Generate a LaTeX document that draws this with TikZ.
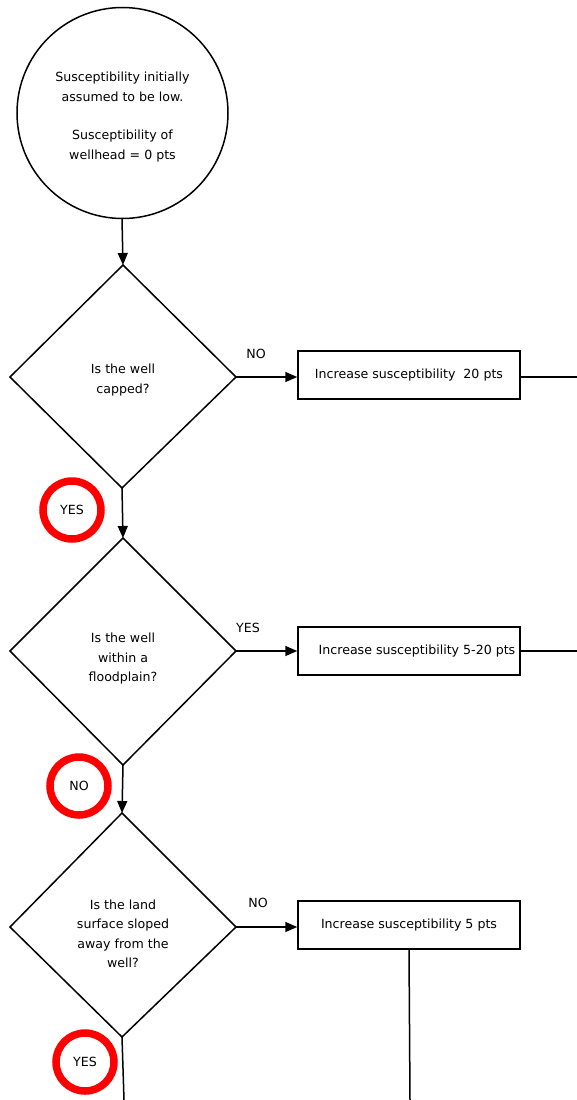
\documentclass[tikz,border=0pt]{standalone}
\usepackage{fontspec}
\setmainfont{DejaVu Sans}
\usetikzlibrary{arrows.meta,shapes.geometric}
\begin{document}
\begin{tikzpicture}[x=1pt,y=-1pt,
  txt/.style={font=\fontsize{12.6}{19.5}\selectfont, align=center, inner sep=0pt},
  conn/.style={line width=1.5pt},
  arr/.style={conn,-{Triangle[length=12pt,width=10pt]}},
  box/.style={draw, line width=1.5pt, minimum width=222pt, minimum height=48pt, inner sep=0pt, font=\fontsize{12.6}{15}\selectfont},
  ring/.style={draw=red, line width=7.5pt, circle, minimum size=58pt, inner sep=0pt, font=\fontsize{12.6}{15}\selectfont}]
\useasboundingbox (0,0) rectangle (577,1100);
% start circle
\draw[line width=1.5pt] (122.5,113) circle (105.5);
\node[txt] (start) at (122.5,117) {Susceptibility initially\\assumed to be low.\\[19pt]Susceptibility of\\wellhead = 0 pts};
\coordinate (sbot) at (122,218.5);
% diamond 1
\coordinate (d1t) at (123,265); \coordinate (d1l) at (10,377); \coordinate (d1r) at (236,377); \coordinate (d1b) at (122,488);
\draw[line width=1.5pt, line join=miter] (d1t) -- (d1r) -- (d1b) -- (d1l) -- cycle;
\node[txt] (q1) at (123,380) {Is the well\\capped?};
% diamond 2
\coordinate (d2t) at (123,538); \coordinate (d2l) at (10,651); \coordinate (d2r) at (236,651); \coordinate (d2b) at (123,765);
\draw[line width=1.5pt] (d2t) -- (d2r) -- (d2b) -- (d2l) -- cycle;
\node[txt] (q2) at (123,659) {Is the well\\within a\\floodplain?};
% diamond 3
\coordinate (d3t) at (122,813); \coordinate (d3l) at (10,927); \coordinate (d3r) at (236,927); \coordinate (d3b) at (122,1037);
\draw[line width=1.5pt] (d3t) -- (d3r) -- (d3b) -- (d3l) -- cycle;
\node[txt] (q3) at (123,934) {Is the land\\surface sloped\\away from the\\well?};
% boxes
\node[box] (b1) at (409,375) {Increase susceptibility\ \ 20 pts};
\node[box] (b2) at (409,651) {\hspace*{16pt}Increase susceptibility 5-20 pts};
\node[box] (b3) at (409,925) {Increase susceptibility 5 pts};
% connectors
\draw[arr] (sbot) -- (d1t);
\draw[arr] (d1b) -- (d2t);
\draw[arr] (d2b) -- (d3t);
\coordinate (end1) at (124,1100);
\draw[conn] (d3b) -- (end1);
\draw[arr] (d1r) -- (b1.west |- d1r);
\draw[arr] (d2r) -- (b2.west |- d2r);
\draw[arr] (d3r) -- (b3.west |- d3r);
\coordinate (e1) at (577,377); \coordinate (e2) at (577,651); \coordinate (e3) at (410,1100);
\draw[conn] (b1.east |- e1) -- (e1);
\draw[conn] (b2.east |- e2) -- (e2);
\draw[conn] (b3.south) -- (e3);
% labels
\node[txt] (l1) at (256,354) {NO};
\node[txt] (l2) at (248,628) {YES};
\node[txt] (l3) at (258,903) {NO};
% red rings
\node[ring] (r1) at (72,510) {YES};
\node[ring] (r2) at (79,786) {NO};
\node[ring] (r3) at (85,1062) {YES};
\end{tikzpicture}
\end{document}
